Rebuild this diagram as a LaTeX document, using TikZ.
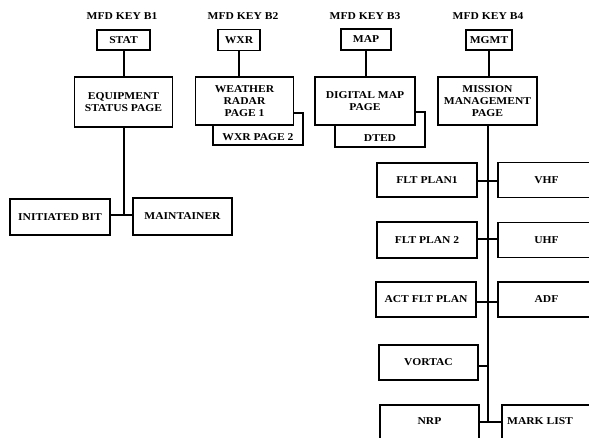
\documentclass[tikz,border=0pt]{standalone}
\usepackage{fontspec}
\setmainfont[FakeStretch=1.1]{Liberation Serif}
\begin{document}
\begin{tikzpicture}[x=1pt,y=-1pt,
  every node/.style={font=\bfseries\fontsize{10.5}{11.8}\selectfont},
  bx/.style={draw, line width=1.7pt, fill=white, inner sep=1pt, align=center},
  hdr/.style={inner sep=0pt},
  conn/.style={line width=2pt}]
\useasboundingbox (0,0) rectangle (589,438);
% headers
\node[hdr] (h1) at (122,16) {MFD KEY B1};
\node[hdr] (h2) at (243,16) {MFD KEY B2};
\node[hdr] (h3) at (365,16) {MFD KEY B3};
\node[hdr] (h4) at (488,16) {MFD KEY B4};
% key boxes
\node[bx, minimum width=53pt, minimum height=20pt] (stat) at (123.5,40) {STAT};
\node[bx, minimum width=42pt, minimum height=21pt] (wxr) at (239,40) {WXR};
\node[bx, minimum width=50pt, minimum height=21pt] (map) at (366,39.5) {MAP};
\node[bx, minimum width=46pt, minimum height=20pt] (mgmt) at (489,40) {MGMT};
% back pages
\node[bx, minimum width=90pt, minimum height=32pt,
  label={[anchor=center, yshift=9pt, font=\bfseries\fontsize{10.5}{11.8}\selectfont]south:WXR PAGE 2}] (wxr2) at (258,129) {};
\node[bx, minimum width=90pt, minimum height=35pt,
  label={[anchor=center, yshift=10pt, font=\bfseries\fontsize{10.5}{11.8}\selectfont]south:DTED}] (dted) at (380,129.5) {};
% second level pages
\node[bx, minimum width=98pt, minimum height=50pt] (equip) at (123.5,102) {EQUIPMENT\\STATUS PAGE};
\node[bx, minimum width=98pt, minimum height=48pt] (weather) at (244.5,101) {WEATHER\\RADAR\\PAGE 1};
\node[bx, minimum width=100pt, minimum height=48pt] (digital) at (365,101) {DIGITAL MAP\\PAGE};
\node[bx, minimum width=99pt, minimum height=48pt] (mission) at (487.5,101) {MISSION\\MANAGEMENT\\PAGE};
% equipment children
\node[bx, minimum width=100pt, minimum height=36pt] (init) at (60,217) {INITIATED BIT};
\node[bx, minimum width=99pt, minimum height=37pt] (maint) at (182.5,216.5) {MAINTAINER};
% mission children
\node[bx, minimum width=100pt, minimum height=34pt] (flt1) at (427,180) {FLT PLAN1};
\node[bx, minimum width=97pt, minimum height=35pt] (vhf) at (546.5,180) {VHF};
\node[bx, minimum width=100pt, minimum height=36pt] (flt2) at (427,240) {FLT PLAN 2};
\node[bx, minimum width=97pt, minimum height=35pt] (uhf) at (546.5,240) {UHF};
\node[bx, minimum width=100pt, minimum height=35pt] (act) at (426,299.5) {ACT FLT PLAN};
\node[bx, minimum width=97pt, minimum height=35pt] (adf) at (546.5,299.5) {ADF};
\node[bx, minimum width=99pt, minimum height=35pt] (vortac) at (428.5,362.5) {VORTAC};
\node[bx, minimum width=99pt, minimum height=40pt] (nrp) at (429.5,425) {};
\node[inner sep=0pt] (nrpt) at (429.5,421) {NRP};
\node[bx, minimum width=93pt, minimum height=40pt] (mark) at (548.5,425) {};
\node[inner sep=0pt] (markt) at (540,421) {MARK LIST};
% connectors
\coordinate (eq) at (123.5,215.5);
\coordinate (sp) at (488,422);
\coordinate (y1) at (0,181);
\coordinate (y2) at (0,239);
\coordinate (y3) at (0,302);
\coordinate (y4) at (0,366);
\draw[conn] (stat) -- (equip);
\draw[conn] (wxr) -- (wxr |- weather.north);
\draw[conn] (map) -- (map |- digital.north);
\draw[conn] (mgmt.south) -- (mgmt.south |- mission.north);
\draw[conn] (equip.south) -- (eq);
\draw[conn] (init.east |- eq) -- (maint.west |- eq);
\draw[conn] (mission.south -| sp) -- (sp);
\draw[conn] (flt1.east |- y1) -- (vhf.west |- y1);
\draw[conn] (flt2.east |- y2) -- (uhf.west |- y2);
\draw[conn] (act.east |- y3) -- (adf.west |- y3);
\draw[conn] (vortac.east |- y4) -- (sp |- y4);
\draw[conn] (nrp.east |- sp) -- (mark.west |- sp);
\end{tikzpicture}
\end{document}
